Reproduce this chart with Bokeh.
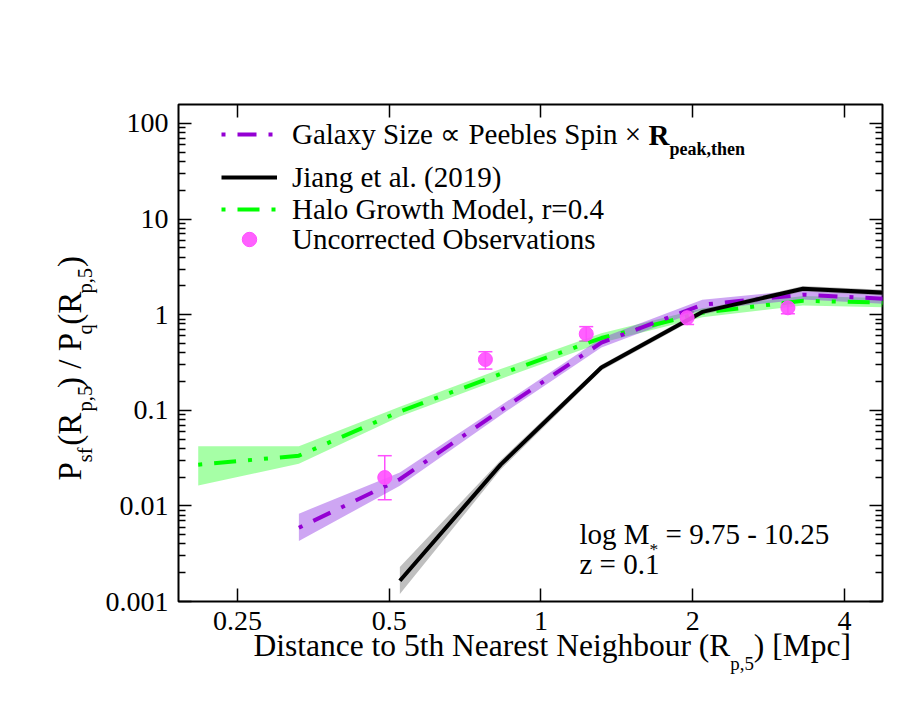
import math
from bokeh.plotting import figure
from bokeh.models import (Range1d, LogAxis, FixedTicker, Legend, LegendItem, Label,
                          Whisker, TeeHead, ColumnDataSource)
from bokeh.embed import file_html
from bokeh.resources import INLINE

# ---------------- data ----------------
halo_x  = [0.209, 0.331, 0.525, 0.832, 1.318, 2.09, 3.31, 5.25]
halo_y  = [0.027, 0.0335, 0.097, 0.24, 0.57, 1.05, 1.40, 1.32]
halo_lo = [0.0163, 0.0276, 0.086, 0.213, 0.51, 0.94, 1.25, 1.18]
halo_hi = [0.042, 0.042, 0.109, 0.27, 0.64, 1.17, 1.57, 1.48]

spin_x  = [0.331, 0.525, 0.832, 1.318, 2.09, 3.31, 5.25]
spin_y  = [0.0059, 0.019, 0.10, 0.51, 1.27, 1.62, 1.43]
spin_lo = [0.0043, 0.0162, 0.089, 0.455, 1.13, 1.44, 1.27]
spin_hi = [0.0083, 0.0224, 0.112, 0.57, 1.43, 1.82, 1.60]

jiang_x  = [0.525, 0.832, 1.318, 2.09, 3.31, 5.25]
jiang_y  = [0.00165, 0.027, 0.28, 1.07, 1.87, 1.66]
jiang_lo = [0.0012, 0.024, 0.26, 1.00, 1.75, 1.55]
jiang_hi = [0.0023, 0.030, 0.30, 1.14, 2.00, 1.78]

obs_x  = [0.49, 0.776, 1.23, 1.95, 3.09]
obs_y  = [0.0198, 0.34, 0.63, 0.93, 1.18]
obs_lo = [0.0116, 0.27, 0.53, 0.79, 1.02]
obs_hi = [0.0335, 0.41, 0.75, 1.07, 1.33]

x_ticks = [0.25, 0.5, 1, 2, 4]
x_tick_labels = ["0.25", "0.5", "1", "2", "4"]
y_ticks = [0.001, 0.01, 0.1, 1, 10, 100]
y_tick_labels = ["0.001", "0.01", "0.1", "1", "10", "100"]
y_minor = [m * 10.0 ** e for e in range(-3, 3) for m in range(2, 10)]

legend_labels = ["Galaxy Size \u221d Peebles Spin \u00d7", "Jiang et al. (2019)",
                 "Halo Growth Model, r=0.4", "Uncorrected Observations"]

PURPLE = "#9400D3"
PURPLE_BAND = "#8A2BE2"
GREEN = "#00FF00"
MAGENTA = "#FF4FFF"
FONT = "Liberation Serif"
NBSP = "\u00a0"

# ---------------- figure ----------------
W, H = 913, 706
FL, FR, FT, FB = 178, 882, 104, 601   # frame edges in page px
p = figure(width=W, height=H, x_axis_type="log", y_axis_type="log",
           x_range=Range1d(0.191, 4.76), y_range=Range1d(0.001, 158),
           output_backend="svg", toolbar_location=None,
           min_border_left=FL, min_border_right=W - FR, min_border_top=FT,
           min_border_bottom=H - FB)
p.grid.visible = False
p.outline_line_color = "black"
p.outline_line_width = 2
p.background_fill_color = "white"
p.border_fill_color = "white"

def style_axis(ax, labels):
    ax.axis_line_color = None
    ax.major_tick_in = 13
    ax.major_tick_out = 0
    ax.minor_tick_in = 7
    ax.minor_tick_out = 0
    ax.major_tick_line_color = "black"
    ax.minor_tick_line_color = "black"
    ax.major_tick_line_width = 1.5
    ax.minor_tick_line_width = 1.5
    ax.major_label_text_font = FONT
    ax.major_label_text_color = "black"
    ax.major_label_text_font_size = "28px"
    ax.major_label_overrides = labels

X_STANDOFF = 10
bx = p.xaxis[0]
bx.ticker = FixedTicker(ticks=x_ticks, minor_ticks=[])
style_axis(bx, dict(zip(x_ticks, x_tick_labels)))
bx.major_label_standoff = X_STANDOFF
ly = p.yaxis[0]
ly.ticker = FixedTicker(ticks=y_ticks, minor_ticks=y_minor)
style_axis(ly, dict(zip(y_ticks, y_tick_labels)))
ly.major_label_standoff = 10

tx = LogAxis(ticker=FixedTicker(ticks=x_ticks, minor_ticks=[]))
style_axis(tx, {t: "" for t in x_ticks})
p.add_layout(tx, "above")
ry = LogAxis(ticker=FixedTicker(ticks=y_ticks, minor_ticks=y_minor))
style_axis(ry, {t: "" for t in y_ticks})
p.add_layout(ry, "right")

# ---------------- bands ----------------
p.varea(x=halo_x, y1=halo_lo, y2=halo_hi, fill_color=GREEN, fill_alpha=0.35)
p.varea(x=spin_x, y1=spin_lo, y2=spin_hi, fill_color=PURPLE_BAND, fill_alpha=0.42)
p.varea(x=jiang_x, y1=jiang_lo, y2=jiang_hi, fill_color="#808080", fill_alpha=0.5)

# ---------------- lines ----------------
r_halo = p.line(halo_x, halo_y, line_color=GREEN, line_width=4,
                line_dash="22 12 4 12 4 12", line_dash_offset=50)
r_spin = p.line(spin_x, spin_y, line_color=PURPLE, line_width=4,
                line_dash="19 12 4 12", line_dash_offset=31)
r_jiang = p.line(jiang_x, jiang_y, line_color="black", line_width=4)

# ---------------- observations ----------------
src_obs = ColumnDataSource(dict(x=obs_x, y=obs_y, lower=obs_lo, upper=obs_hi))
p.add_layout(Whisker(source=src_obs, base="x", upper="upper", lower="lower",
                     dimension="height", line_color=MAGENTA, line_width=1.5,
                     upper_head=TeeHead(size=14, line_color=MAGENTA, line_width=1.5),
                     lower_head=TeeHead(size=14, line_color=MAGENTA, line_width=1.5)))
r_obs = p.scatter("x", "y", source=src_obs, marker="circle", size=14,
                  fill_color=MAGENTA, line_color=MAGENTA, fill_alpha=0.9)

# ---------------- legends (one per item, for exact spacing) ----------------
LEG_X = 43
GLYPH_W = 56
STANDOFF = 15
LEG_FS = 29
item_centres = [134, 177, 209, 239]   # page y of each legend row
renderers = [r_spin, r_jiang, r_halo, r_obs]
for lab_text, r, yc in zip(legend_labels, renderers, item_centres):
    leg = Legend(items=[LegendItem(label=lab_text, renderers=[r])],
                 location=(LEG_X, FB - yc - 18),
                 glyph_width=GLYPH_W, glyph_height=36, label_standoff=STANDOFF,
                 padding=0, margin=0, spacing=0, border_line_color=None,
                 background_fill_alpha=0, label_text_font=FONT,
                 label_text_font_size=f"{LEG_FS}px", label_text_color="black")
    p.add_layout(leg)

# ---------------- text helpers ----------------
REG = {' ': 250, '(': 333, ')': 333, ',': 250, '.': 250, '/': 278, '-': 333, '=': 564,
       '*': 500, '[': 333, ']': 333, '\u00d7': 564, '\u221d': 713, NBSP: 250}
for c in "0123456789":
    REG[c] = 500
REG.update(dict(A=722, B=667, C=667, D=722, E=611, F=556, G=722, H=722, I=333, J=389,
                K=722, L=611, M=889, N=722, O=722, P=556, Q=722, R=667, S=556, T=611,
                U=722, V=722, W=944, X=722, Y=722, Z=611,
                a=444, b=500, c=444, d=500, e=444, f=333, g=500, h=500, i=278, j=278,
                k=500, l=278, m=778, n=500, o=500, p=500, q=500, r=333, s=389, t=278,
                u=500, v=500, w=722, x=500, y=500, z=444))
BOLD = dict(REG)
BOLD.update(dict(R=722, p=556, e=444, a=500, k=556, t=333, h=556, n=556))
MID = 0.3375   # distance from baseline to the "middle" anchor, in em

def tw(s, size, bold=False):
    tab = BOLD if bold else REG
    return sum(tab.get(ch, 500) for ch in s) / 1000.0 * size

def lab(x, y, text, fs, bold=False, angle=0.0):
    return Label(x=x, y=y, x_units="screen", y_units="screen", text=text, text_font=FONT,
                 text_font_size=f"{fs:.1f}px", text_font_style="bold" if bold else "normal",
                 text_color="black", angle=angle, text_align="left", text_baseline="middle")

def build(parts, size, sub_scale):
    """Return (main string with gaps, sub string with gaps, offset of first sub)."""
    fs_sub = size * sub_scale
    nb_main, nb_sub = tw(NBSP, size), tw(NBSP, fs_sub)
    main, pos, subs = "", 0.0, []
    for text, is_sub in parts:
        if is_sub:
            n = max(1, round(tw(text, fs_sub) / nb_main))
            subs.append((pos, text))
            main += NBSP * n
            pos += n * nb_main
        else:
            main += text
            pos += tw(text, size)
    sub, cur = "", subs[0][0]
    for start, text in subs:
        if sub:
            m = max(1, round((start - cur) / nb_sub))
            sub += NBSP * m
            cur += m * nb_sub
        sub += text
        cur += tw(text, fs_sub)
    return main, sub, subs[0][0]

# ---- inside-frame texts (frame relative, y up) ----
def centre_y(baseline_page, fs):
    return FB - (baseline_page - MID * fs)

# bold R_peak,then appended to first legend label
r_x = LEG_X + GLYPH_W + STANDOFF + tw(legend_labels[0] + " ", LEG_FS)
leg_base = item_centres[0] + MID * LEG_FS
p.add_layout(lab(r_x, centre_y(leg_base, LEG_FS), "R", LEG_FS, bold=True))
p.add_layout(lab(r_x + tw("R", LEG_FS, True), centre_y(leg_base + 0.36 * LEG_FS, 18),
                 "peak,then", 18, bold=True))

# mass / redshift annotation
AF = 29
ax0 = 579 - FL
p.add_layout(lab(ax0, centre_y(543, AF), "log M", AF))
p.add_layout(lab(ax0 + tw("log M", AF), centre_y(543 + 0.4 * AF, 0.6 * AF), "*", 0.6 * AF))
p.add_layout(lab(ax0 + tw("log M", AF) + tw("*", 0.6 * AF) + tw(" ", AF),
                 centre_y(543, AF), "= 9.75 - 10.25", AF))
p.add_layout(lab(ax0, centre_y(573, AF), "z = 0.1", AF))

# ---- axis titles: placed in the side panels (not clipped by the frame) ----
# x-axis title, rows stacked below the x axis
XF, XS = 31.5, 0.6
xm, xs, xoff = build([("Distance to 5th Nearest Neighbour (R", False), ("p,5", True),
                      (") [Mpc]", False)], XF, XS)
AXIS_ROW = 35 + (X_STANDOFF - 4)    # estimated height of the x-axis panel
MAIN_ROW = round(1.107 * XF)        # estimated height of the main title row
SUB_ROW = round(1.107 * XF * XS)
main_bottom = FB + AXIS_ROW + MAIN_ROW - 10.6     # empirical correction
sub_bottom = FB + AXIS_ROW + MAIN_ROW + SUB_ROW - 14.5
x_base = 655
p.add_layout(lab(253 - FL, main_bottom - (x_base - MID * XF), xm, XF), "below")
p.add_layout(lab(253 - FL + xoff, sub_bottom - (x_base + 0.3 * XF - MID * XF * XS), xs,
                 XF * XS), "below")

# y-axis title (rotated), rows stacked left of the y axis
YF, YS = 33, 0.62
ym, ys, yoff = build([("P", False), ("sf", True), ("(R", False), ("p,5", True),
                      (") / P", False), ("q", True), ("(R", False), ("p,5", True),
                      (")", False)], YF, YS)
YAXIS_ROW = 73
ymain_left = FL - YAXIS_ROW - round(1.107 * YF)
ysub_left = ymain_left - round(1.107 * YF * YS)
y_base_x = 83
y_start = FB - 480
p.add_layout(lab(y_base_x - MID * YF - ymain_left, y_start, ym, YF, angle=math.pi / 2), "left")
p.add_layout(lab(y_base_x + 0.3 * YF - MID * YF * YS - ysub_left, y_start + yoff, ys, YF * YS,
                 angle=math.pi / 2), "left")

open("out.html", "w").write(file_html(p, INLINE))
